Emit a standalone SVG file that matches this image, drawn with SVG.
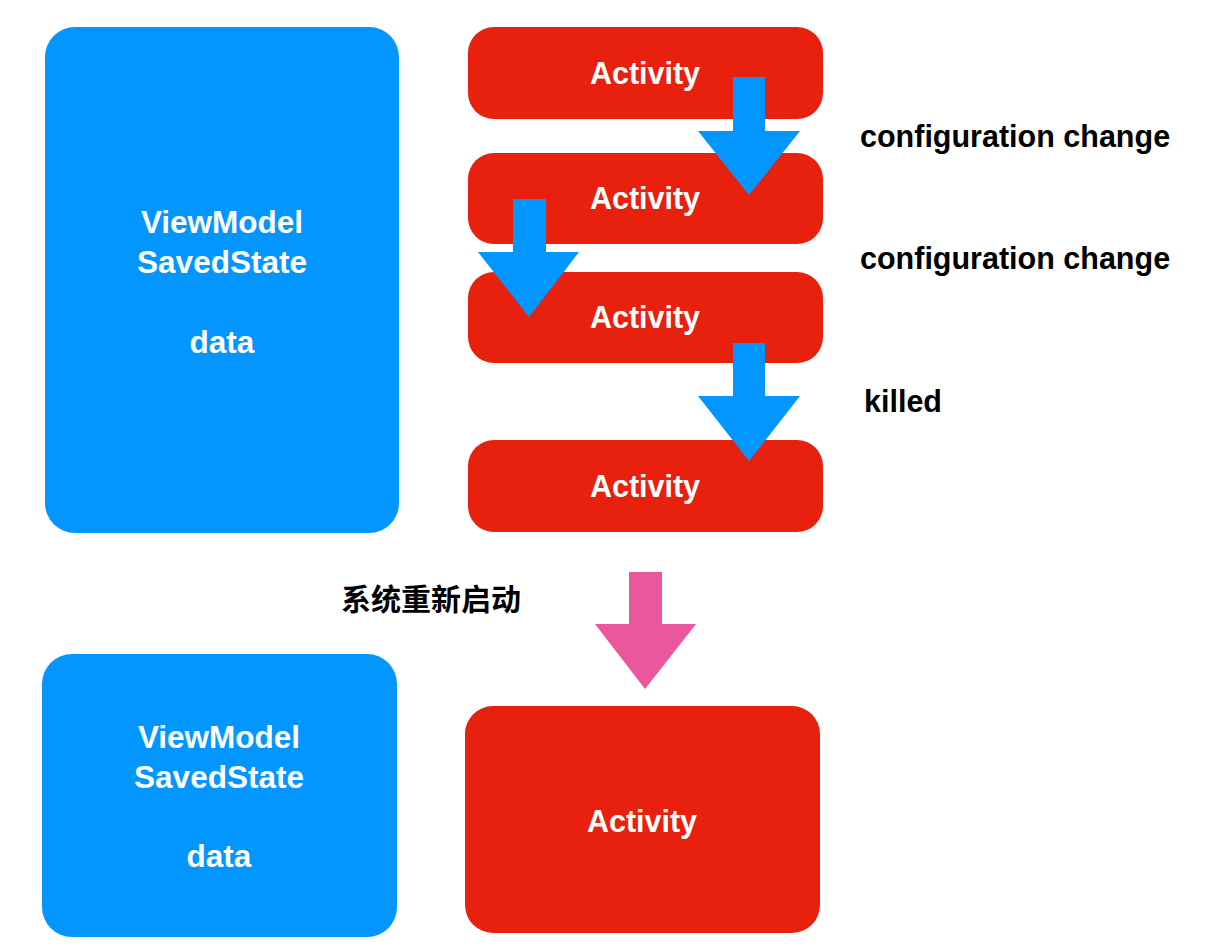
<svg xmlns="http://www.w3.org/2000/svg" width="1214" height="951" viewBox="0 0 1214 951">
<style>
.blue{fill:#0396FF}
.red{fill:#E8200E}
.arrowb{fill:#0396FF}
.arrowp{fill:#EA579C}
.wt{fill:#fff;font-family:"Liberation Sans",Arial,sans-serif;font-weight:bold;text-anchor:middle}
.act{font-size:30.5px}
.vm{font-size:31.5px}
.lbl{fill:#000;font-family:"Liberation Sans",Arial,sans-serif;font-weight:bold;font-size:30.5px}
.cn{fill:#000;font-family:"Liberation Sans","Noto Sans CJK SC",sans-serif;font-weight:bold;font-size:30px}
</style>
<rect width="1214" height="951" fill="#fff"/>
<g id="vm-top">
<rect class="blue" x="45" y="27" width="354" height="506" rx="30"/>
<text class="wt vm" x="222" y="233">ViewModel</text>
<text class="wt vm" x="222" y="273">SavedState</text>
<text class="wt vm" x="222" y="353">data</text>
</g>
<g id="act1">
<rect class="red" x="468" y="27" width="355" height="92" rx="26"/>
<text class="wt act" x="645" y="84">Activity</text>
</g>
<g id="act2">
<rect class="red" x="468" y="153" width="355" height="91" rx="26"/>
<text class="wt act" x="645" y="209">Activity</text>
</g>
<g id="act3">
<rect class="red" x="468" y="272" width="355" height="91" rx="26"/>
<text class="wt act" x="645" y="328">Activity</text>
</g>
<g id="act4">
<rect class="red" x="468" y="440" width="355" height="92" rx="26"/>
<text class="wt act" x="645" y="497">Activity</text>
</g>
<g id="vm-bottom">
<rect class="blue" x="42" y="654" width="355" height="283" rx="30"/>
<text class="wt vm" x="219" y="748">ViewModel</text>
<text class="wt vm" x="219" y="788">SavedState</text>
<text class="wt vm" x="219" y="867">data</text>
</g>
<g id="act5">
<rect class="red" x="465" y="706" width="355" height="227" rx="28"/>
<text class="wt act" x="642" y="832">Activity</text>
</g>
<g id="connectors">
<polygon class="arrowb" points="733,77 765,77 765,131 800,131 749,195 698,131 733,131"/>
<polygon class="arrowb" points="513,199 546,199 546,252 579,252 529,317 478,252 513,252"/>
<polygon class="arrowb" points="733,343 765,343 765,396 800,396 749,461 698,396 733,396"/>
<polygon class="arrowp" points="629,572 662,572 662,624 696,624 645,689 595,624 629,624"/>
</g>
<g id="labels">
<text class="lbl" x="860" y="147">configuration change</text>
<text class="lbl" x="860" y="269">configuration change</text>
<text class="lbl" x="864" y="412">killed</text>
<text class="cn" x="341" y="610">系统重新启动</text>
</g>
</svg>
